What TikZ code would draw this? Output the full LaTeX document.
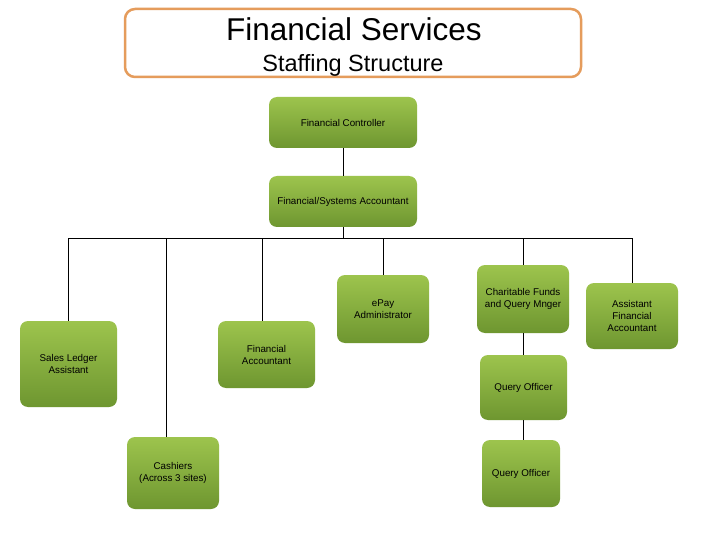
\documentclass[tikz,border=0pt]{standalone}
\usepackage{fontspec}
\setmainfont{Liberation Sans}
\definecolor{gtop}{HTML}{9DC44D}
\definecolor{gbot}{HTML}{6E9630}
\definecolor{tborder}{HTML}{E59C5C}
\begin{document}
\begin{tikzpicture}[x=1pt,y=-1pt,
  box/.style={rectangle, rounded corners=8pt, top color=gtop, bottom color=gbot,
    draw=none, align=center, inner sep=2pt,
    font=\fontsize{9.8}{12}\selectfont},
  conn/.style={draw=black, line width=1pt}]
\useasboundingbox (0,0) rectangle (720,540);
\fill[white] (0,0) rectangle (720,540);

\node[draw=tborder, line width=2.5pt, rounded corners=10pt, fill=white,
  minimum width=456pt, minimum height=68pt, inner sep=0pt] (title) at (353,43) {};
\node[font=\fontsize{31.5}{33}\selectfont, anchor=base] (t1) at (354,41) {Financial Services};
\node[font=\fontsize{23.5}{25}\selectfont, anchor=base] (t2) at (353,72) {Staffing Structure};

\node[box, minimum width=148pt, minimum height=51pt] (fc) at (343,122.5) {Financial Controller};
\node[box, minimum width=148pt, minimum height=51pt] (fsa) at (343,201.5) {Financial/Systems Accountant};
\node[box, minimum width=97pt, minimum height=86pt] (sla) at (68.5,364) {Sales Ledger\\Assistant};
\node[box, minimum width=97pt, minimum height=67pt] (fa) at (266.5,354.5) {Financial\\Accountant};
\node[box, minimum width=92pt, minimum height=68pt] (epay) at (383,309) {ePay\\Administrator};
\node[box, minimum width=92pt, minimum height=68pt] (cfq) at (523,299) {Charitable Funds\\and Query Mnger};
\node[box, minimum width=92pt, minimum height=66pt] (afa) at (632,316) {Assistant\\Financial\\Accountant};
\node[box, minimum width=92pt, minimum height=72pt] (cash) at (173,473) {Cashiers\\(Across 3 sites)};
\node[box, minimum width=87pt, minimum height=65pt] (q1) at (523.5,387.5) {Query Officer};
\node[box, minimum width=78pt, minimum height=67pt] (q2) at (521,473.5) {Query Officer};

\coordinate (busL) at (68,238);
\coordinate (busR) at (632,238);
\coordinate (busM) at (343,238);

\draw[conn] (fc.south) -- (fsa.north);
\draw[conn] (fsa.south) -- (busM);
\draw[conn] (busL) -- (busR);
\draw[conn] (sla.north) -- (sla.north |- busL);
\draw[conn] (cash.100) -- (cash.100 |- busL);
\draw[conn] (fa.96) -- (fa.96 |- busL);
\draw[conn] (epay.north) -- (epay.north |- busL);
\draw[conn] (cfq.north) -- (cfq.north |- busL);
\draw[conn] (afa.north) -- (afa.north |- busL);
\draw[conn] (cfq.south) -- (cfq.south |- q1.north);
\draw[conn] (q1.south -| cfq.south) -- (cfq.south |- q2.north);
\end{tikzpicture}
\end{document}
